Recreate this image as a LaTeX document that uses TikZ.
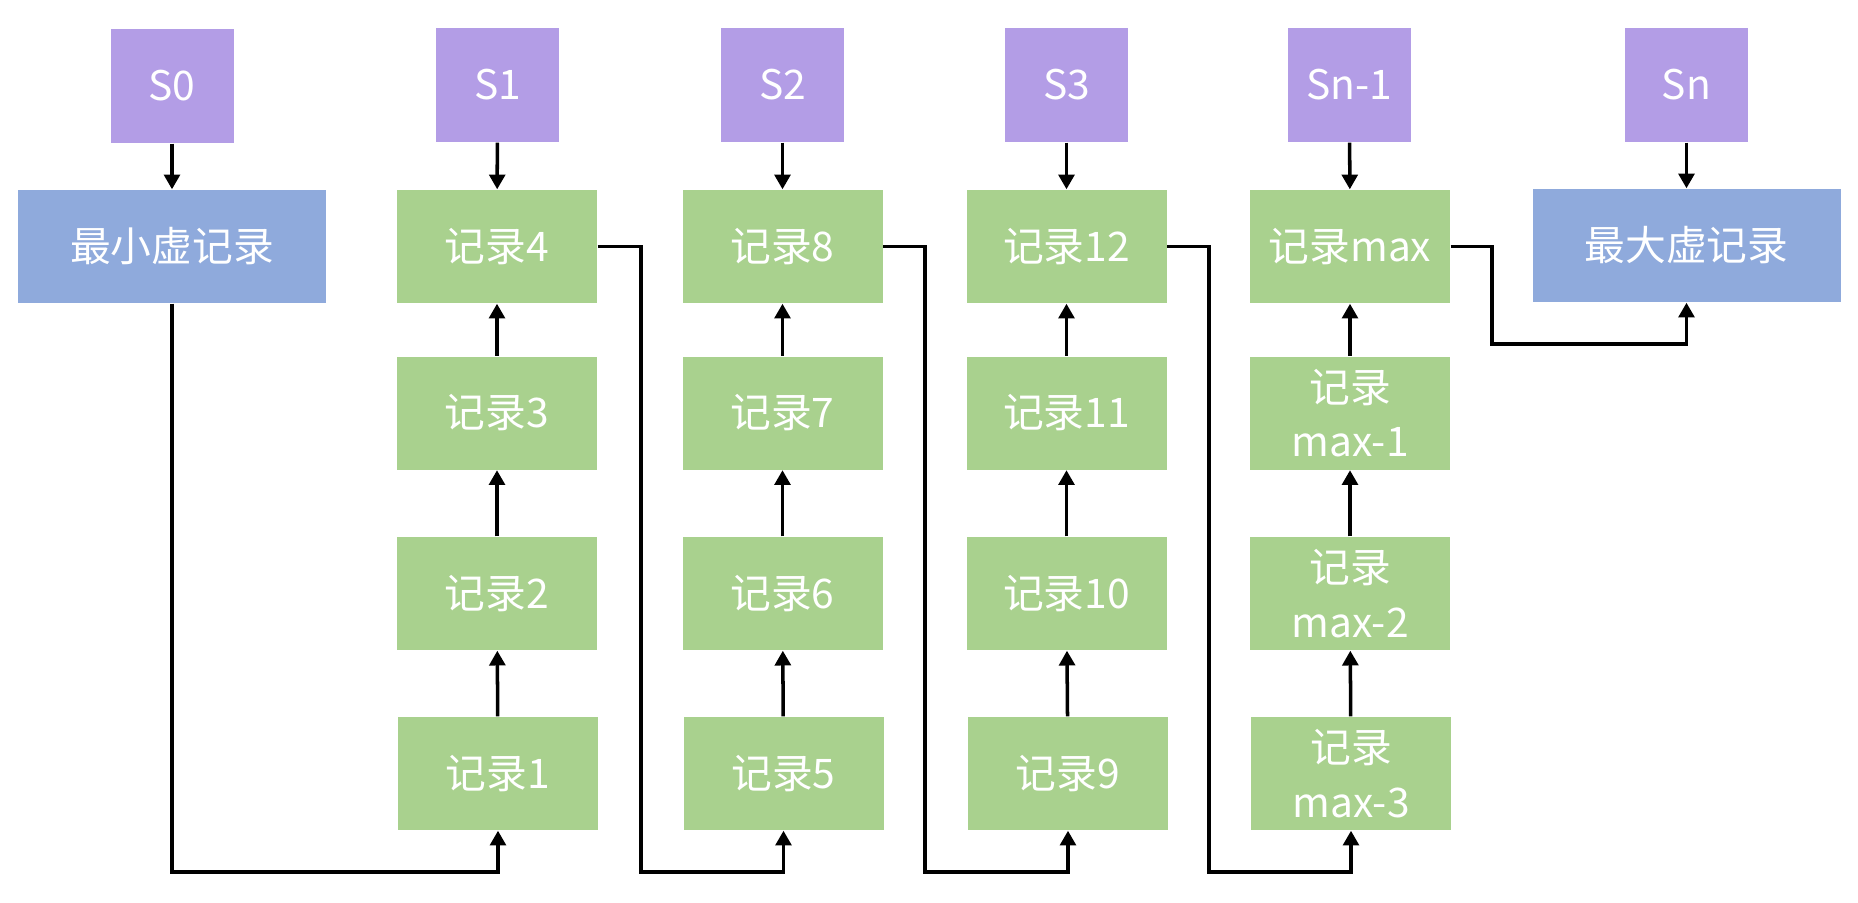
\documentclass[tikz,border=0pt]{standalone}
\usepackage{fontspec}
\newfontfamily\cjk{Noto Sans CJK SC}
\usepackage{tikz}
\usetikzlibrary{positioning,arrows.meta}

\definecolor{slotpurple}{HTML}{B39DE6}
\definecolor{virtblue}{HTML}{8FAADC}
\definecolor{recgreen}{HTML}{A9D18E}

\begin{document}
\begin{tikzpicture}[
  txt/.style={font=\cjk\fontsize{11.6}{15.5}\selectfont, text=white, align=center, inner sep=0pt},
  slotv/.style={txt, fill=slotpurple, minimum width=1.23cm, minimum height=1.14cm},
  virtv/.style={txt, fill=virtblue, minimum width=3.08cm, minimum height=1.13cm},
  recv/.style={txt, fill=recgreen, minimum width=2.0cm, minimum height=1.13cm},
  arr/.style={draw=black, line width=1pt, -{Triangle[length=4.2pt,width=4.5pt]}}
]
\useasboundingbox (0,0) rectangle (18.58,-9.02);

% --- slots $S_0 \dots S_n$ along the top ---
\node[slotv] (s0)  at (1.72,-0.86)   {S0};
\node[slotv] (s1)  at (4.975,-0.85)  {S1};
\node[slotv] (s2)  at (7.825,-0.85)  {S2};
\node[slotv] (s3)  at (10.665,-0.85) {S3};
\node[slotv] (sn1) at (13.495,-0.85) {Sn-1};
\node[slotv] (sn)  at (16.865,-0.85) {Sn};

% --- virtual records at both ends ---
\node[virtv] (minrec) at (1.72,-2.465)   {最小虚记录};
\node[virtv] (maxrec) at (16.865,-2.455) {最大虚记录};

% --- group 1 ---
\node[recv] (r4) at (4.97,-2.465) {记录4};
\node[recv] (r3) at (4.97,-4.13)  {记录3};
\node[recv] (r2) at (4.97,-5.935) {记录2};
\node[recv] (r1) at (4.98,-7.735) {记录1};

% --- group 2 ---
\node[recv] (r8) at (7.825,-2.465) {记录8};
\node[recv] (r7) at (7.825,-4.13)  {记录7};
\node[recv] (r6) at (7.825,-5.935) {记录6};
\node[recv] (r5) at (7.835,-7.735) {记录5};

% --- group 3 ---
\node[recv] (r12) at (10.665,-2.465) {记录12};
\node[recv] (r11) at (10.665,-4.13)  {记录11};
\node[recv] (r10) at (10.665,-5.935) {记录10};
\node[recv] (r9)  at (10.68,-7.735)  {记录9};

% --- group n-1 ---
\node[recv] (rmax)  at (13.50,-2.465) {记录max};
\node[recv] (rmax1) at (13.50,-4.13)  {记录\\max-1};
\node[recv] (rmax2) at (13.50,-5.935) {记录\\max-2};
\node[recv] (rmax3) at (13.51,-7.735) {记录\\max-3};

% --- turning points of the links between groups ---
\coordinate (b0) at (1.72,-8.72);
\coordinate (t1) at (6.41,-8.72);
\coordinate (t2) at (9.25,-8.72);
\coordinate (t3) at (12.09,-8.72);
\coordinate (t4) at (14.92,-3.44);

% --- slot pointers ---
\draw[arr] (s0) -- (minrec);
\draw[arr] (s1) -- (r4);
\draw[arr] (s2) -- (r8);
\draw[arr] (s3) -- (r12);
\draw[arr] (sn1) -- (rmax);
\draw[arr] (sn) -- (maxrec);

% --- records inside a group ---
\draw[arr] (r1) -- (r2);
\draw[arr] (r2) -- (r3);
\draw[arr] (r3) -- (r4);
\draw[arr] (r5) -- (r6);
\draw[arr] (r6) -- (r7);
\draw[arr] (r7) -- (r8);
\draw[arr] (r9) -- (r10);
\draw[arr] (r10) -- (r11);
\draw[arr] (r11) -- (r12);
\draw[arr] (rmax3) -- (rmax2);
\draw[arr] (rmax2) -- (rmax1);
\draw[arr] (rmax1) -- (rmax);

% --- links from one group to the next ---
\draw[arr] (minrec.south) -- (b0) -| (r1.south);
\draw[arr] (r4.east) -| (t1) -| (r5.south);
\draw[arr] (r8.east) -| (t2) -| (r9.south);
\draw[arr] (r12.east) -| (t3) -| (rmax3.south);
\draw[arr] (rmax.east) -| (t4) -| (maxrec.south);

\end{tikzpicture}
\end{document}
